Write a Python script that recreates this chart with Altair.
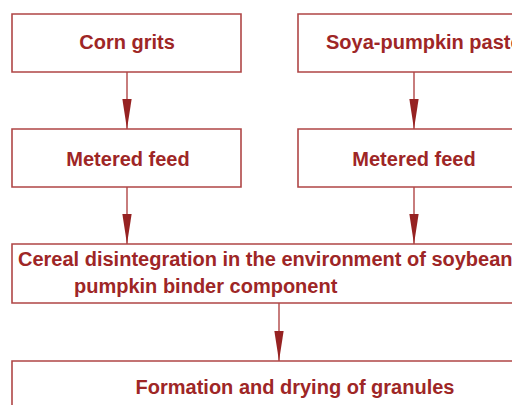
import altair as alt
import pandas as pd

# ---- content ----
box_labels = ["Corn grits", "Soya-pumpkin paste", "Metered feed", "Metered feed",
              "Cereal disintegration", "Formation and drying of granules"]
box_x1 = [12, 298, 12, 298, 12, 12]
box_x2 = [241, 590, 241, 590, 590, 590]
box_y1 = [14, 14, 129, 129, 244, 361]
box_y2 = [72, 72, 187, 187, 303, 460]

text_lines = ["Corn grits", "Soya-pumpkin paste", "Metered feed", "Metered feed",
              "Cereal disintegration in the environment of soybean-",
              "pumpkin binder component", "Formation and drying of granules"]
text_x = [127, 326, 128, 414, 18, 74, 295]
text_y = [43, 43, 160, 160, 260, 287, 388]
text_align = ["center", "left", "center", "center", "left", "left", "center"]

arrow_x = [127, 414, 127, 414, 279]
arrow_y1 = [72, 72, 187, 187, 303]
arrow_y2 = [129, 129, 244, 244, 361]

# ---- styles ----
TEXT_C = "#9e2626"
LINE_C = "#b04646"
HEAD_C = "#962222"
FONT = "Liberation Sans, Arial, sans-serif"

boxes = pd.DataFrame({"label": box_labels, "x1": box_x1, "x2": box_x2,
                      "y1": box_y1, "y2": box_y2})
texts = pd.DataFrame({"t": text_lines, "x": text_x, "y": text_y, "a": text_align})
arrows = pd.DataFrame({"x": arrow_x, "y1": arrow_y1, "y2": arrow_y2})
arrows["hy"] = arrows["y2"] - 15

# page pixel coordinates -> chart area starting at the 8px page margin
W, H = 504, 397
xs = alt.Scale(domain=[8, 8 + W], nice=False, zero=False)
ys = alt.Scale(domain=[8 + H, 8], nice=False, zero=False)
X = lambda f: alt.X(f, type="quantitative", scale=xs, axis=None)
Y = lambda f: alt.Y(f, type="quantitative", scale=ys, axis=None)

rects = alt.Chart(boxes).mark_rect(fill="white", stroke=LINE_C, strokeWidth=1.6,
                                   clip=True).encode(
    x=X("x1"), x2="x2", y=Y("y1"), y2="y2")

lines = alt.Chart(arrows).mark_rule(color=LINE_C, strokeWidth=1.4, clip=True).encode(
    x=X("x"), y=Y("y1"), y2="y2")

heads = alt.Chart(arrows).mark_point(
    shape="M -0.31 -1 L 0.31 -1 L 0 1 Z", size=900, filled=True,
    fill=HEAD_C, opacity=1, strokeWidth=0, clip=True).encode(
    x=X("x"), y=Y("hy"))

layers = []
for al in ["left", "center"]:
    layers.append(
        alt.Chart(texts[texts["a"] == al]).mark_text(
            align=al, baseline="middle", font=FONT, fontSize=20,
            fontWeight="bold", color=TEXT_C, clip=True).encode(
            x=X("x"), y=Y("y"), text="t:N"))

chart = alt.layer(rects, lines, heads, *layers).properties(
    width=W, height=H, padding=0, autosize=alt.AutoSizeParams(type="none"),
    background="white"
).configure_view(stroke=None)

chart.save("out.html", embed_options={"renderer": "svg", "actions": False})
